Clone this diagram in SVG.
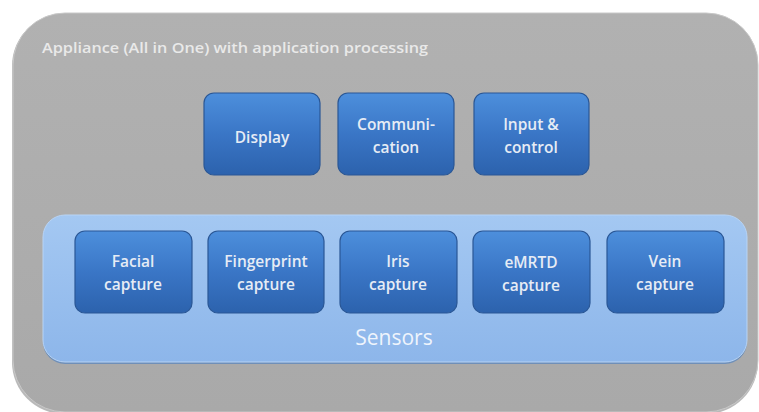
<svg xmlns="http://www.w3.org/2000/svg" width="759" height="412" viewBox="0 0 759 412">
<defs>
<linearGradient id="gBox" x1="0" y1="0" x2="0" y2="1">
<stop offset="0" stop-color="#4d8fdc"/>
<stop offset="0.5" stop-color="#3a76c6"/>
<stop offset="1" stop-color="#2c62ad"/>
</linearGradient>
<linearGradient id="gPanel" x1="0" y1="0" x2="0" y2="1">
<stop offset="0" stop-color="#a4c8f2"/>
<stop offset="1" stop-color="#8db6ea"/>
</linearGradient>
<linearGradient id="gOuter" x1="0" y1="0" x2="0" y2="1">
<stop offset="0" stop-color="#b1b1b1"/>
<stop offset="1" stop-color="#a9a9a9"/>
</linearGradient>
</defs>
<style>
.box{fill:url(#gBox);stroke:#2a5796;stroke-width:1.2}
.lbl{font-family:"Open Sans","Liberation Sans",sans-serif;font-size:15.5px;font-weight:600;fill:#e6ecf5;text-anchor:middle}
</style>
<rect width="759" height="412" fill="#ffffff"/>
<g id="appliance">
<rect x="12" y="14" width="746" height="400" rx="52" ry="52" fill="#8a8a8a" opacity="0.6"/>
<rect x="13" y="13" width="745" height="399" rx="52" ry="52" fill="url(#gOuter)" stroke="#c8c8c8" stroke-width="1"/>
<text x="42" y="53" font-family="'Open Sans','Liberation Sans',sans-serif" font-size="15" font-weight="600" fill="#e9e9e9" textLength="386" lengthAdjust="spacingAndGlyphs">Appliance (All in One) with application processing</text>
</g>
<g id="display">
<rect class="box" x="204" y="93" width="116" height="82" rx="10"/>
<text class="lbl" x="262" y="143">Display</text>
</g>
<g id="communication">
<rect class="box" x="338" y="93" width="116" height="82" rx="10"/>
<text class="lbl" x="396" y="130">Communi-</text>
<text class="lbl" x="396" y="153">cation</text>
</g>
<g id="input">
<rect class="box" x="474" y="93" width="115" height="82" rx="10"/>
<text class="lbl" x="531" y="130">Input &amp;</text>
<text class="lbl" x="531" y="153">control</text>
</g>
<g id="sensors">
<rect x="43" y="216" width="704" height="148" rx="22" fill="#6f8fb8"/>
<rect x="43" y="215" width="704" height="147" rx="22" fill="url(#gPanel)" stroke="#b8d4f5" stroke-width="1"/>
<text x="394" y="345" font-family="'Open Sans','Liberation Sans',sans-serif" font-size="21" fill="#eef4fc" text-anchor="middle">Sensors</text>
</g>
<g id="facial">
<rect class="box" x="75" y="231" width="117" height="82" rx="10"/>
<text class="lbl" x="133" y="267">Facial</text>
<text class="lbl" x="133" y="290">capture</text>
</g>
<g id="fingerprint">
<rect class="box" x="208" y="231" width="116" height="82" rx="10"/>
<text class="lbl" x="266" y="267">Fingerprint</text>
<text class="lbl" x="266" y="290">capture</text>
</g>
<g id="iris">
<rect class="box" x="340" y="231" width="117" height="82" rx="10"/>
<text class="lbl" x="398" y="267">Iris</text>
<text class="lbl" x="398" y="290">capture</text>
</g>
<g id="emrtd">
<rect class="box" x="473" y="231" width="117" height="82" rx="10"/>
<text class="lbl" x="531" y="268">eMRTD</text>
<text class="lbl" x="531" y="291">capture</text>
</g>
<g id="vein">
<rect class="box" x="607" y="231" width="117" height="82" rx="10"/>
<text class="lbl" x="665" y="267">Vein</text>
<text class="lbl" x="665" y="290">capture</text>
</g>
<g id="connectors"/>
</svg>
